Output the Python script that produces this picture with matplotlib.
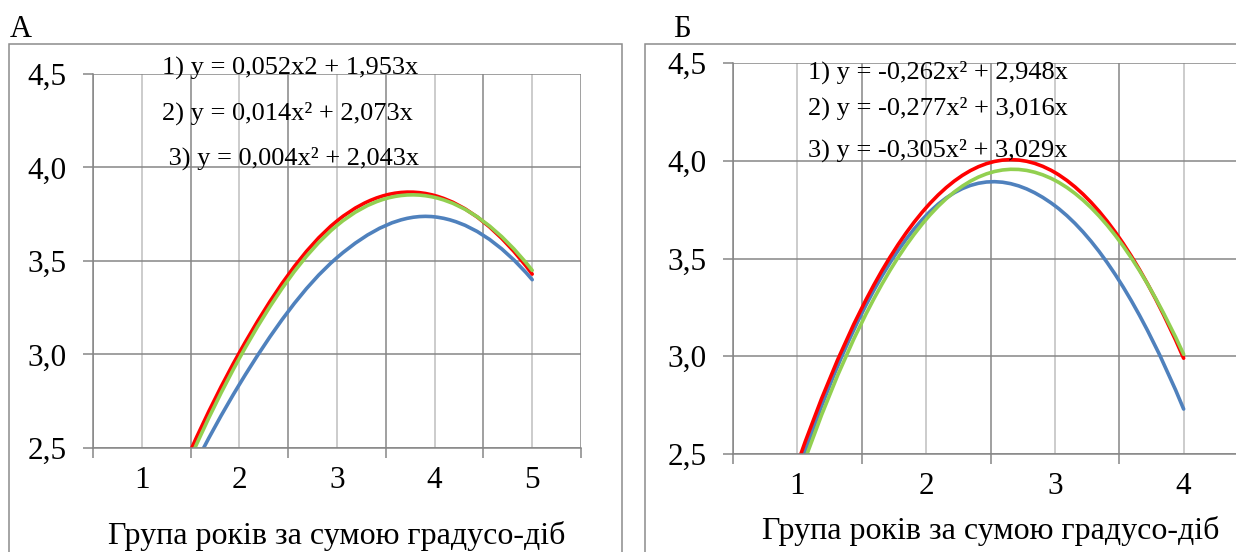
import numpy as np
import matplotlib.pyplot as plt
from matplotlib.path import Path
from matplotlib.patches import PathPatch, Rectangle

plt.rcParams['font.family'] = ['Liberation Serif', 'DejaVu Serif']

# ---------------------------------------------------------
# Data
# ---------------------------------------------------------
groups_a = [1, 2, 3, 4, 5]
a_series1 = [1.80, 2.84, 3.518, 3.736, 3.40]  # blue
a_series2 = [1.85, 3.01, 3.714, 3.85, 3.43]   # red
a_series3 = [1.80, 2.98, 3.69, 3.84, 3.45]    # green

groups_b = [1, 2, 3, 4]
b_series1 = [2.40, 3.72, 3.77, 2.73]          # blue
b_series2 = [2.45, 3.76, 3.94, 2.99]          # red
b_series3 = [2.36, 3.70, 3.90, 3.01]          # green

eq_a = ["1) y = 0,052x2 + 1,953x",
        "2) y = 0,014x\u00b2 + 2,073x",
        " 3) y = 0,004x\u00b2 + 2,043x"]
eq_b = ["1) y = -0,262x\u00b2 + 2,948x",
        "2) y = -0,277x\u00b2 + 3,016x",
        "3) y = -0,305x\u00b2 + 3,029x"]

y_ticks = [2.5, 3.0, 3.5, 4.0, 4.5]
x_title = "Група років за сумою градусо-діб"

BLUE = '#4f81bd'
RED = '#ff0000'
GREEN = '#92d050'
GRID_MAJ = '#868686'
GRID_MIN = '#bebebe'

W, H = 1236, 552


def smooth_path(xs, ys):
    # smoothed line: cubic hermite, catmull-rom tangents inside,
    # three-point tangents at both ends (unit spacing of the groups)
    x = np.asarray(xs, float)
    y = np.asarray(ys, float)
    n = len(y)
    m = np.empty(n)
    m[1:-1] = (y[2:] - y[:-2]) / 2
    m[0] = (-3 * y[0] + 4 * y[1] - y[2]) / 2
    m[-1] = (3 * y[-1] - 4 * y[-2] + y[-3]) / 2
    verts = [(x[0], y[0])]
    codes = [Path.MOVETO]
    for i in range(n - 1):
        h = x[i + 1] - x[i]
        verts += [(x[i] + h / 3, y[i] + m[i] * h / 3),
                  (x[i + 1] - h / 3, y[i + 1] - m[i + 1] * h / 3),
                  (x[i + 1], y[i + 1])]
        codes += [Path.CURVE4] * 3
    return Path(verts, codes)


def style_axes(ax, groups):
    x0, x1 = groups[0] - 0.5, groups[-1] + 0.5
    ax.set_xlim(x0, x1)
    ax.set_ylim(2.5, 4.5)
    ax.set_xticks(np.arange(x0, x1 + 0.01, 1.0))
    ax.set_xticks(groups, minor=True)
    ax.set_xticklabels([])
    ax.set_xticklabels([str(g) for g in groups], minor=True)
    ax.set_yticks(y_ticks)
    ax.set_yticklabels([f"{v:.1f}".replace('.', ',') for v in y_ticks])
    ax.grid(True, which='major', color=GRID_MAJ, lw=1.1)
    ax.grid(True, which='minor', axis='x', color=GRID_MIN, lw=1.1)
    ax.set_axisbelow(True)
    for s in ['top', 'right']:
        ax.spines[s].set_visible(False)
    for s in ['left', 'bottom']:
        ax.spines[s].set_color(GRID_MAJ)
        ax.spines[s].set_linewidth(1.1)
    ax.tick_params(axis='x', which='major', length=7, width=1.1, color=GRID_MAJ)
    ax.tick_params(axis='x', which='minor', length=0, pad=13, labelsize=22.5)
    ax.tick_params(axis='y', length=7, width=1.1, color=GRID_MAJ, pad=12,
                   labelsize=22.5)
    ax.set_facecolor('none')


def draw_curves(ax, xs, blue, red, green):
    for ys, col in [(blue, BLUE), (red, RED), (green, GREEN)]:
        ax.add_patch(PathPatch(smooth_path(xs, ys), fill=False, edgecolor=col,
                               lw=2.6, capstyle='round', joinstyle='round'))


fig = plt.figure(figsize=(W / 100, H / 100), dpi=100)

# chart frames
fig.add_artist(Rectangle((9 / W, -0.05), (622 - 9) / W, 1.05 - 44 / H,
                         transform=fig.transFigure, fill=False,
                         edgecolor='#8c8c8c', lw=1.1))
fig.add_artist(Rectangle((645 / W, -0.05), 0.5, 1.05 - 44 / H,
                         transform=fig.transFigure, fill=False,
                         edgecolor='#8c8c8c', lw=1.1))

# ---------------------------------------------------------
# Panel A
# ---------------------------------------------------------
ax1 = fig.add_axes([93 / W, (H - 448) / H, (581 - 93) / W, (448 - 74) / H])
style_axes(ax1, groups_a)
draw_curves(ax1, groups_a, a_series1, a_series2, a_series3)
ax1.set_xlabel(x_title, fontsize=23, labelpad=19)

fig.text(10 / W, 1 - 37 / H, "А", fontsize=22, va='baseline', ha='left')
for txt, (px, py) in zip(eq_a, [(162, 68), (162, 113), (162, 158)]):
    fig.text(px / W, 1 - py / H, txt, fontsize=19, va='center', ha='left')

# ---------------------------------------------------------
# Panel B
# ---------------------------------------------------------
ax2 = fig.add_axes([733 / W, (H - 454) / H, (1248 - 733) / W, (454 - 63) / H])
style_axes(ax2, groups_b)
draw_curves(ax2, groups_b, b_series1, b_series2, b_series3)
ax2.set_xlabel(x_title, fontsize=23, labelpad=11)

fig.text(673 / W, 1 - 37 / H, "Б", fontsize=22, va='baseline', ha='left')
for txt, (px, py) in zip(eq_b, [(808, 72), (808, 108), (808, 150)]):
    fig.text(px / W, 1 - py / H, txt, fontsize=19, va='center', ha='left')

fig.savefig("out.png", dpi=100)
